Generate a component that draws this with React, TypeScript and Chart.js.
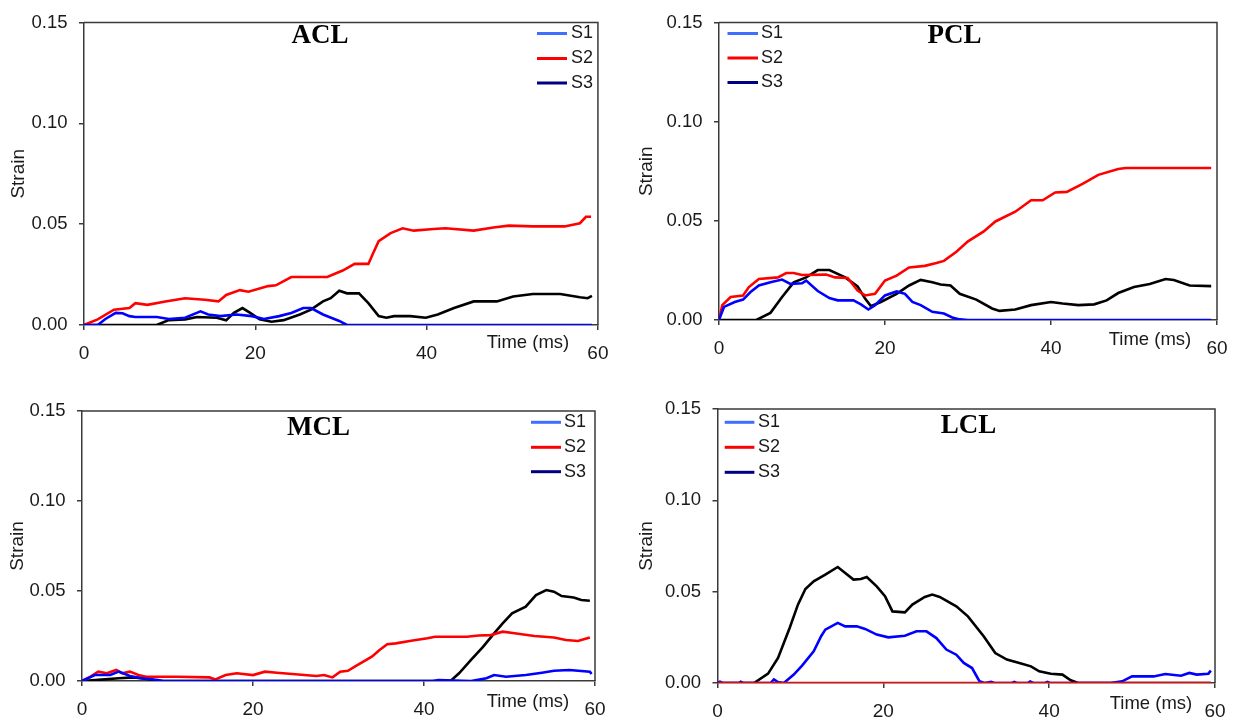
import React, { useEffect, useRef } from "react";
import { Chart, registerables } from "chart.js";

Chart.register(...registerables);

type P = [number, number];

// ---- axis ticks / names ----
const X_TICKS = [0, 20, 40, 60];
const Y_TICKS = [0, 0.05, 0.1, 0.15];
const SERIES_NAMES = ["S1", "S2", "S3"];
const LINE_COLORS = ["#0000ff", "#ff0000", "#000000"];
const LEGEND_COLORS = ["#3f6fff", "#ff0000", "#000080"];
const X_LABEL = "Time (ms)";
const Y_LABEL = "Strain";

// ---- ACL ----
const ACL_S1: P[] = [[0,0],[1.6,0],[2.5,0.003],[3.7,0.006],[4.5,0.0058],[5.3,0.0044],[6,0.004],[8.5,0.004],[9.9,0.003],[11.8,0.0036],[13.6,0.0068],[14.5,0.0052],[15.9,0.0044],[17.8,0.0052],[19.6,0.0044],[21,0.003],[22.8,0.0044],[24.2,0.006],[25.6,0.0084],[26.5,0.0084],[27.9,0.0052],[29.8,0.002],[30.7,0],[59.3,0]];
const ACL_S2: P[] = [[0,0],[1.6,0.0028],[3.5,0.0076],[5.3,0.0084],[6,0.0108],[7.4,0.01],[9.5,0.0117],[11.8,0.0133],[14.1,0.0125],[15.7,0.0117],[16.6,0.0149],[18.2,0.0173],[19.2,0.0165],[21.5,0.0193],[22.4,0.0197],[24.2,0.0238],[28.4,0.0238],[30.2,0.027],[31.6,0.0303],[33.2,0.0303],[33.7,0.0351],[34.4,0.0416],[35.8,0.0456],[37.2,0.048],[38.5,0.0468],[40.8,0.0476],[42.2,0.048],[45.5,0.0468],[47.8,0.0484],[49.6,0.0493],[52.4,0.0489],[56.1,0.0489],[57.9,0.0505],[58.6,0.0537],[59.2,0.0537]];
const ACL_S3: P[] = [[0,0],[8.5,0],[9.9,0.0024],[11.8,0.0028],[13.2,0.004],[15.5,0.0036],[16.6,0.0023],[17.5,0.006],[18.5,0.0084],[19.4,0.006],[20.5,0.0028],[21.9,0.0016],[23.3,0.0024],[25.2,0.0052],[26.5,0.0076],[27.9,0.0117],[28.8,0.0133],[29.8,0.017],[30.7,0.0157],[32.1,0.0157],[33.2,0.0108],[34.4,0.0044],[35.3,0.0036],[36.2,0.0044],[38.1,0.0044],[39.9,0.0036],[41.3,0.0052],[43.2,0.0084],[45.5,0.0117],[48.2,0.0117],[50.1,0.0141],[52.4,0.0154],[55.6,0.0154],[57.9,0.0138],[58.8,0.0133],[59.3,0.0144]];

// ---- PCL ----
const PCL_S1: P[] = [[0,0],[0.6,0.0066],[1.9,0.0091],[2.9,0.0103],[3.8,0.0141],[4.8,0.0174],[6.2,0.019],[7.6,0.0204],[8.6,0.0182],[10,0.0185],[10.5,0.0199],[11.9,0.0146],[13.3,0.0111],[14.3,0.0099],[16.2,0.0099],[17.1,0.0079],[18,0.0053],[18.8,0.0075],[20,0.0124],[21.4,0.0144],[22.4,0.0132],[23.3,0.0091],[24.3,0.0075],[25.7,0.0041],[27.1,0.0033],[28.1,0.0013],[29,0.0003],[30,0],[59.3,0]];
const PCL_S2: P[] = [[0,0],[0.4,0.0075],[1.4,0.0116],[2.9,0.0124],[3.6,0.0166],[4.8,0.0207],[7.1,0.0215],[8.1,0.0237],[9,0.0237],[10,0.0227],[12.9,0.0229],[14,0.0215],[15.5,0.0212],[16.7,0.0149],[17.6,0.0124],[18.8,0.0132],[20,0.0199],[21.4,0.0224],[22.9,0.0265],[24.8,0.0273],[26.2,0.0287],[27.1,0.0298],[28.6,0.0344],[30,0.0397],[31.9,0.0447],[33.3,0.0497],[35.7,0.0546],[37.6,0.0604],[39,0.0604],[40.5,0.0643],[41.9,0.0646],[43.8,0.0687],[45.7,0.0732],[48.1,0.0762],[49,0.0767],[59.3,0.0767]];
const PCL_S3: P[] = [[0,0],[4.5,0],[6.2,0.0036],[7.6,0.0116],[9,0.019],[10.5,0.0215],[11.9,0.0252],[13.3,0.0252],[15.2,0.0215],[16.7,0.0169],[17.6,0.0108],[18.3,0.007],[19.5,0.0091],[21.4,0.0132],[22.9,0.0174],[24.3,0.0202],[25.7,0.019],[26.7,0.0179],[27.9,0.0174],[29,0.0132],[31,0.0103],[32.9,0.0058],[33.8,0.0046],[35.7,0.0053],[37.6,0.0075],[40,0.0091],[41.4,0.0083],[43.3,0.0075],[45.2,0.0079],[46.7,0.0099],[48.1,0.0136],[50,0.0166],[51.9,0.0182],[53.8,0.0207],[54.8,0.0202],[56.7,0.0174],[59.3,0.0171]];

// ---- MCL ----
const MCL_S1: P[] = [[0,0],[1.5,0.0033],[3.3,0.0033],[4.3,0.0052],[5.6,0.0028],[7,0.0015],[8.9,0.0006],[9.5,0],[41,0],[41.7,0.0005],[45.5,0],[47.3,0.0015],[48.2,0.0033],[49.6,0.0024],[51.9,0.0033],[53.8,0.0046],[55.2,0.0057],[57,0.0061],[59.4,0.0052],[59.6,0.0039]];
const MCL_S2: P[] = [[0,0],[1,0.0024],[1.9,0.0052],[2.9,0.0043],[4,0.0061],[4.7,0.0043],[5.6,0.0052],[6.6,0.0033],[7.5,0.0024],[11.2,0.0024],[14.9,0.002],[15.6,0.0009],[16.8,0.0033],[18.1,0.0043],[20,0.0033],[21.4,0.0052],[22.8,0.0046],[24.6,0.0039],[26,0.0033],[27.4,0.0028],[28.3,0.0033],[29.3,0.002],[30.2,0.0052],[31.1,0.0057],[32,0.0083],[33.9,0.0135],[34.8,0.0172],[35.7,0.0204],[36.7,0.0209],[38.5,0.0224],[40.4,0.0237],[41.3,0.0246],[45,0.0246],[46.4,0.0253],[47.8,0.0255],[49.2,0.0274],[50.6,0.0265],[52.9,0.025],[55.2,0.0242],[56.6,0.0228],[58,0.0222],[59.4,0.0242]];
const MCL_S3: P[] = [[0,0],[1.9,0.0006],[4.3,0.0015],[6.1,0.002],[8,0.0009],[8.9,0],[43.1,0],[44.1,0.0043],[45.5,0.0117],[46.9,0.019],[48.2,0.0265],[49.2,0.032],[50.3,0.0376],[51.9,0.0413],[53.1,0.0477],[54.3,0.0505],[55.2,0.0496],[56.1,0.0472],[57.5,0.0464],[58.4,0.045],[59.4,0.0446]];

// ---- LCL ----
const LCL_S1: P[] = [[0,0],[0.3,0.0007],[0.6,0],[2.6,0],[2.8,0.0007],[3.1,0],[6.4,0],[6.8,0.002],[7.3,0.0005],[8,0],[9.2,0.0046],[10.2,0.0095],[11.6,0.0173],[12.5,0.0256],[13,0.0292],[14.5,0.0329],[15.4,0.031],[16.8,0.031],[17.8,0.0296],[19.2,0.0265],[20.6,0.025],[22.6,0.0259],[24,0.0283],[25.2,0.0283],[26.4,0.0246],[27.6,0.0183],[28.8,0.0155],[29.7,0.011],[30.7,0.0082],[31.6,0.0009],[32.2,0],[33,0.0006],[33.4,0],[35.5,0],[35.8,0.0006],[36.1,0],[37.4,0],[37.7,0.0008],[38.1,0],[39.5,0],[39.8,0.0006],[40.1,0],[47.4,0],[48.8,0.0009],[50,0.0036],[52.6,0.0036],[54,0.0049],[55.9,0.004],[56.9,0.0055],[57.8,0.0046],[59.2,0.0051],[59.5,0.0068]];
const LCL_S2: P[] = [[0,0],[59.5,0]];
const LCL_S3: P[] = [[0,0],[4.4,0],[6.1,0.0051],[7.3,0.0137],[8.7,0.0301],[9.7,0.0429],[10.6,0.0515],[11.6,0.0557],[13,0.0593],[14.5,0.0635],[15.4,0.0602],[16.4,0.0566],[17.3,0.0569],[18,0.058],[19.2,0.0529],[20.2,0.0475],[21.1,0.0392],[22.6,0.0387],[23.5,0.0429],[25,0.0471],[25.9,0.0484],[26.8,0.0471],[28.8,0.042],[30.2,0.0365],[32.1,0.0256],[33.5,0.0164],[34.9,0.0128],[36.4,0.011],[37.8,0.0091],[38.8,0.0064],[40.2,0.0051],[41.6,0.0046],[42.6,0.0015],[43.5,0],[59.5,0]];

// ---- layout / style (not data) ----
const SANS = '"Liberation Sans", Arial, Helvetica, sans-serif';
const SERIF = '"Liberation Serif", "Times New Roman", serif';
const AXIS_COLOR = "#3a3a3a";
const TEXT_COLOR = "#1a1a1a";

interface PanelDef {
  title: string;
  series: P[][];
  order: number[];
  canvas: { x: number; y: number; w: number; h: number };
  plot: { L: number; T: number; R: number; B: number };
  titlePos: [number, number];
  legend: { x1: number; x2: number; tx: number; rows: number[] };
  timePos: [number, number];
  strainX: number;
}

const PANELS: PanelDef[] = [
  {
    title: "ACL",
    series: [ACL_S1, ACL_S2, ACL_S3],
    order: [0, 1, 2],
    canvas: { x: 0, y: 0, w: 621, h: 360 },
    plot: { L: 84, T: 17, R: 598, B: 325 },
    titlePos: [320, 43],
    legend: { x1: 537, x2: 567, tx: 571, rows: [33.5, 58.5, 83] },
    timePos: [528, 343],
    strainX: 19,
  },
  {
    title: "PCL",
    series: [PCL_S1, PCL_S2, PCL_S3],
    order: [0, 1, 2],
    canvas: { x: 621, y: 0, w: 621, h: 360 },
    plot: { L: 719, T: 17, R: 1217, B: 320 },
    titlePos: [954.6, 43],
    legend: { x1: 727.5, x2: 758, tx: 761, rows: [33.5, 58, 82.5] },
    timePos: [1150, 340],
    strainX: 647,
  },
  {
    title: "MCL",
    series: [MCL_S1, MCL_S2, MCL_S3],
    order: [0, 1, 2],
    canvas: { x: 0, y: 360, w: 621, h: 361 },
    plot: { L: 82, T: 411, R: 595, B: 681 },
    titlePos: [318.6, 435],
    legend: { x1: 531, x2: 561, tx: 564, rows: [422.3, 447.3, 471.7] },
    timePos: [528, 702],
    strainX: 18,
  },
  {
    title: "LCL",
    series: [LCL_S1, LCL_S2, LCL_S3],
    order: [1, 0, 2],
    canvas: { x: 621, y: 360, w: 621, h: 361 },
    plot: { L: 717.5, T: 409, R: 1215, B: 683 },
    titlePos: [968.6, 433],
    legend: { x1: 724.7, x2: 754.4, tx: 758, rows: [422.3, 447.3, 472.3] },
    timePos: [1151, 704],
    strainX: 647,
  },
];

function Panel({ p }: { p: PanelDef }) {
  const ref = useRef<HTMLCanvasElement | null>(null);

  useEffect(() => {
    const canvas = ref.current;
    if (!canvas) return;
    const ox = p.canvas.x;
    const oy = p.canvas.y;
    const L = p.plot.L - ox;
    const T = p.plot.T - oy;
    const R = p.plot.R - ox;
    const B = p.plot.B - oy;
    const strainLH = 19 * 1.2;

    const decor = {
      id: "decor",
      afterDraw(chart: any) {
        const ctx: CanvasRenderingContext2D = chart.ctx;
        const a = chart.chartArea;
        ctx.save();
        // frame top / right
        ctx.strokeStyle = AXIS_COLOR;
        ctx.lineWidth = 1.5;
        ctx.beginPath();
        ctx.moveTo(a.left, a.top);
        ctx.lineTo(a.right, a.top);
        ctx.lineTo(a.right, a.bottom);
        ctx.stroke();
        // title
        ctx.fillStyle = "#000";
        ctx.font = `bold 27px ${SERIF}`;
        ctx.textAlign = "center";
        ctx.textBaseline = "alphabetic";
        ctx.fillText(p.title, p.titlePos[0] - ox, p.titlePos[1] - oy);
        // legend
        ctx.font = `18px ${SANS}`;
        ctx.textAlign = "left";
        ctx.textBaseline = "middle";
        SERIES_NAMES.forEach((name, i) => {
          const y = p.legend.rows[i] - oy;
          ctx.strokeStyle = LEGEND_COLORS[i];
          ctx.lineWidth = 3;
          ctx.beginPath();
          ctx.moveTo(p.legend.x1 - ox, y);
          ctx.lineTo(p.legend.x2 - ox, y);
          ctx.stroke();
          ctx.fillStyle = TEXT_COLOR;
          ctx.fillText(name, p.legend.tx - ox, y);
        });
        // time label
        ctx.font = `18.5px ${SANS}`;
        ctx.textAlign = "center";
        ctx.textBaseline = "middle";
        ctx.fillStyle = TEXT_COLOR;
        ctx.fillText(X_LABEL, p.timePos[0] - ox, p.timePos[1] - oy);
        ctx.restore();
      },
    };

    const chart = new Chart(canvas, {
      type: "line",
      data: {
        datasets: p.series.map((pts, i) => ({
          label: SERIES_NAMES[i],
          data: pts.map(([x, y]) => ({ x, y })),
          borderColor: LINE_COLORS[i],
          backgroundColor: LINE_COLORS[i],
          borderWidth: 2.6,
          pointRadius: 0,
          tension: 0,
          fill: false,
          order: p.order[i],
        })),
      },
      options: {
        responsive: false,
        maintainAspectRatio: false,
        animation: false,
        events: [],
        devicePixelRatio: 1,
        layout: { padding: { left: 0, top: T, right: p.canvas.w - R, bottom: 0 } },
        plugins: {
          legend: { display: false },
          tooltip: { enabled: false },
          title: { display: false },
        },
        scales: {
          x: {
            type: "linear",
            min: 0,
            max: 60,
            afterBuildTicks: (s: any) => {
              s.ticks = X_TICKS.map((v) => ({ value: v }));
            },
            afterFit: (s: any) => {
              s.height = p.canvas.h - B;
            },
            grid: {
              display: true,
              drawOnChartArea: false,
              drawTicks: true,
              tickLength: 5,
              color: AXIS_COLOR,
              lineWidth: 1.5,
            },
            border: { display: true, color: AXIS_COLOR, width: 1.5 },
            ticks: {
              padding: 12.5,
              color: TEXT_COLOR,
              font: { family: SANS, size: 19 },
              maxRotation: 0,
              autoSkip: false,
              callback: (v: any) => String(v),
            },
          },
          y: {
            type: "linear",
            min: 0,
            max: 0.15,
            afterBuildTicks: (s: any) => {
              s.ticks = Y_TICKS.map((v) => ({ value: v }));
            },
            afterFit: (s: any) => {
              s.width = L;
            },
            grid: {
              display: true,
              drawOnChartArea: false,
              drawTicks: true,
              tickLength: 5,
              color: AXIS_COLOR,
              lineWidth: 1.5,
            },
            border: { display: true, color: AXIS_COLOR, width: 1.5 },
            ticks: {
              padding: 11.5,
              color: TEXT_COLOR,
              font: { family: SANS, size: 18.5 },
              autoSkip: false,
              callback: (v: any) => Number(v).toFixed(2),
            },
            title: {
              display: true,
              text: Y_LABEL,
              color: TEXT_COLOR,
              font: { family: SANS, size: 19 },
              padding: { top: p.strainX - ox - strainLH / 2, bottom: 0 },
            },
          },
        },
      },
      plugins: [decor],
    } as any);

    return () => chart.destroy();
  }, [p]);

  return (
    <canvas
      ref={ref}
      width={p.canvas.w}
      height={p.canvas.h}
      style={{
        position: "absolute",
        left: p.canvas.x,
        top: p.canvas.y,
        width: p.canvas.w,
        height: p.canvas.h,
      }}
    />
  );
}

export default function App() {
  return (
    <div
      style={{
        position: "fixed",
        left: 0,
        top: 0,
        width: 1242,
        height: 721,
        background: "#ffffff",
        overflow: "hidden",
      }}
    >
      {PANELS.map((p) => (
        <Panel key={p.title} p={p} />
      ))}
    </div>
  );
}
